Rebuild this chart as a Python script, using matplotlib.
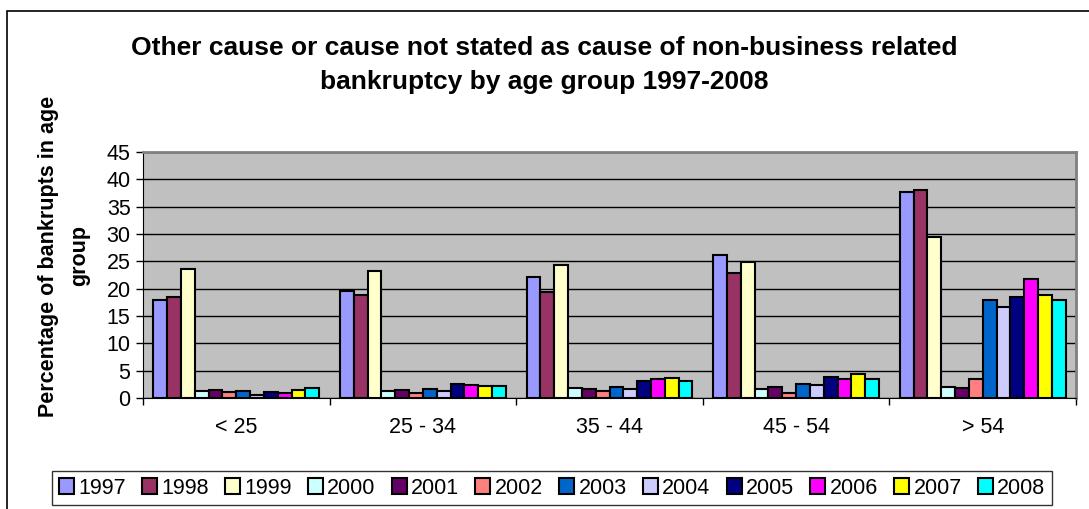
import numpy as np
import matplotlib.pyplot as plt
from matplotlib.patches import Rectangle

plt.rcParams['font.family'] = ['Liberation Sans', 'DejaVu Sans']

age_groups = ["< 25", "25 - 34", "35 - 44", "45 - 54", "> 54"]
years = ["1997", "1998", "1999", "2000", "2001", "2002",
         "2003", "2004", "2005", "2006", "2007", "2008"]

# percentage per year, one list per age group
lt25 = [17.9, 18.4, 23.6, 1.2, 1.5, 1.1, 1.3, 0.55, 1.1, 1.0, 1.4, 1.8]
g25_34 = [19.5, 18.8, 23.3, 1.2, 1.4, 1.0, 1.65, 1.2, 2.5, 2.4, 2.2, 2.2]
g35_44 = [22.2, 19.3, 24.4, 1.8, 1.65, 1.2, 2.0, 1.6, 3.2, 3.4, 3.7, 3.1]
g45_54 = [26.1, 22.8, 24.8, 1.65, 2.0, 1.0, 2.5, 2.3, 3.8, 3.4, 4.35, 3.55]
gt54 = [37.7, 38.1, 29.4, 2.0, 1.9, 3.4, 17.9, 16.7, 18.4, 21.8, 18.8, 17.9]

year_colours = ["#9999FF", "#993366", "#FFFFCC", "#CCFFFF", "#660066", "#FF8080",
                "#0066CC", "#CCCCFF", "#000080", "#FF00FF", "#FFFF00", "#00FFFF"]

values = np.array([lt25, g25_34, g35_44, g45_54, gt54])  # groups x years

fig = plt.figure(figsize=(10.89, 5.09), dpi=100)
ax = fig.add_axes([143 / 1089, 1 - 398 / 509, (1076 - 143) / 1089, (398 - 152) / 509])
ax.set_facecolor("#C0C0C0")

# chart border (cropped on the right and bottom in the original)
fig.patches.append(Rectangle((7 / 1089, -0.1), 1.2, 1 - 11 / 509 + 0.1,
                             transform=fig.transFigure, fill=False,
                             edgecolor="black", linewidth=1.2))

x = np.arange(len(age_groups))
w = 1 / 13.5
for i, yr in enumerate(years):
    ax.bar(x + (i - 5.5) * w, values[:, i], width=w, color=year_colours[i],
           edgecolor="black", linewidth=1.5, label=yr, zorder=3)

ax.set_xlim(-0.5, 4.5)
ax.set_ylim(0, 45)
ax.set_yticks(np.arange(0, 46, 5))
ax.yaxis.grid(True, color="black", linewidth=1, zorder=1)
ax.set_axisbelow(True)

ax.set_xticks(x)
ax.set_xticklabels(age_groups)
ax.set_xticks(np.arange(-0.5, 4.6, 1), minor=True)
ax.tick_params(axis="x", which="major", length=0, pad=14, labelsize=15.5)
ax.tick_params(axis="x", which="minor", length=5, width=1, direction="out")
ax.tick_params(axis="y", length=5, width=1, direction="out", pad=4, labelsize=15.5)

for s in ["top", "right"]:
    ax.spines[s].set_color("#808080")
    ax.spines[s].set_linewidth(2)
ax.spines["left"].set_color("black")
ax.spines["bottom"].set_color("black")

fig.text(0.5, 1 - 65 / 509, "Other cause or cause not stated as cause of non-business related\n"
         "bankruptcy by age group 1997-2008", ha="center", va="center",
         fontsize=19, fontweight="bold", linespacing=1.5)

fig.text(64 / 1089, 1 - 256 / 509, "Percentage of bankrupts in age\ngroup", rotation=90,
         ha="center", va="center", multialignment="center",
         fontsize=15.5, fontweight="bold", linespacing=1.65)

leg = fig.legend(loc="center", bbox_to_anchor=(552 / 1089, 1 - 488 / 509), ncol=12,
                 frameon=True, fancybox=False, edgecolor="black", fontsize=15.5,
                 handlelength=0.7, handleheight=0.7, handletextpad=0.2,
                 columnspacing=0.75, borderpad=0.3, borderaxespad=0)
leg.get_frame().set_linewidth(1)

fig.savefig("out.png", dpi=100)
